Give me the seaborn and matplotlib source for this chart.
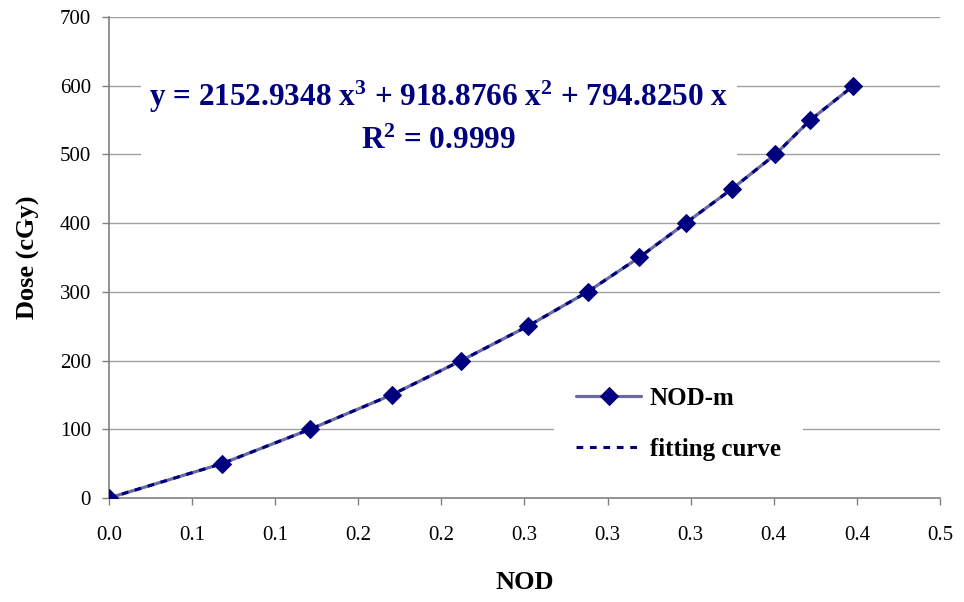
import matplotlib
matplotlib.use("Agg")
import matplotlib.pyplot as plt
import seaborn as sns
import pandas as pd

nod = [0.0, 0.068, 0.121, 0.170, 0.212, 0.252, 0.288, 0.319, 0.347, 0.375, 0.401, 0.422, 0.448]
dose = [0, 50, 100, 150, 200, 250, 300, 350, 400, 450, 500, 550, 600]
xticks = [0.0, 0.05, 0.10, 0.15, 0.20, 0.25, 0.30, 0.35, 0.40, 0.45, 0.50]
xtick_labels = ["0.0", "0.1", "0.1", "0.2", "0.2", "0.3", "0.3", "0.3", "0.4", "0.4", "0.5"]
yticks = [0, 100, 200, 300, 400, 500, 600, 700]

df = pd.DataFrame({"NOD": nod, "Dose": dose})

sns.set_theme(style="white")
plt.rcParams["font.family"] = ["Liberation Serif", "DejaVu Serif"]
plt.rcParams["text.color"] = "black"
plt.rcParams["axes.labelcolor"] = "black"
plt.rcParams["mathtext.fontset"] = "custom"
plt.rcParams["mathtext.rm"] = "Liberation Serif:bold"
plt.rcParams["mathtext.it"] = "Liberation Serif:bold"
plt.rcParams["mathtext.bf"] = "Liberation Serif:bold"

fig = plt.figure(figsize=(9.64, 6.02), dpi=100)
ax = fig.add_axes([0.1131, 0.1728, 0.975 - 0.1131, 0.9718 - 0.1728])

ax.set_axisbelow(True)
for y in yticks[1:]:
    ax.axhline(y, color="#a0a0a0", lw=1.0, zorder=0)

sns.lineplot(data=df, x="NOD", y="Dose", ax=ax, color="#6b6ba3", lw=2.3,
             marker="D", markersize=9.5, markerfacecolor="#00007f",
             markeredgecolor="#00007f", label="NOD-m", zorder=3)
sns.lineplot(data=df, x="NOD", y="Dose", ax=ax, color="#00007f", lw=2.2,
             linestyle=(0, (2.2, 2.2)), label="fitting curve", zorder=4)

ax.set_xlim(0, 0.5)
ax.set_ylim(0, 700)
ax.set_xticks(xticks)
ax.set_xticklabels(xtick_labels)
ax.set_yticks(yticks)
ax.tick_params(axis="both", labelsize=15, labelcolor="black", color="#808080",
               length=5, width=1, direction="out", bottom=True, left=True)
ax.tick_params(axis="x", pad=15)
ax.tick_params(axis="y", pad=8)

for s in ["top", "right"]:
    ax.spines[s].set_visible(False)
for s in ["left", "bottom"]:
    ax.spines[s].set_color("#808080")
    ax.spines[s].set_linewidth(1.2)

ax.set_xlabel("NOD", fontsize=19, fontweight="bold", labelpad=19, color="black")
ax.set_ylabel("Dose (cGy)", fontsize=19, fontweight="bold", labelpad=14, color="black")

ax.text(0.1983, 554,
        "y = 2152.9348 x$^{3}$ + 918.8766 x$^{2}$ + 794.8250 x\nR$^{2}$ = 0.9999",
        ha="center", va="center", multialignment="center", linespacing=1.55,
        fontsize=22.5, fontweight="bold", color="#00007f",
        bbox=dict(facecolor="white", edgecolor="none", pad=6), zorder=5)

leg = ax.legend(loc="lower left", bbox_to_anchor=(0.52, 0.005), frameon=True,
                fancybox=False, framealpha=1, edgecolor="white",
                prop={"size": 18, "weight": "bold"}, handlelength=2.6,
                handletextpad=0.35, labelspacing=1.1, borderpad=0.9)
leg.get_frame().set_linewidth(0)
for t in leg.get_texts():
    t.set_color("black")

fig.savefig("out.png", dpi=100, facecolor="white")
